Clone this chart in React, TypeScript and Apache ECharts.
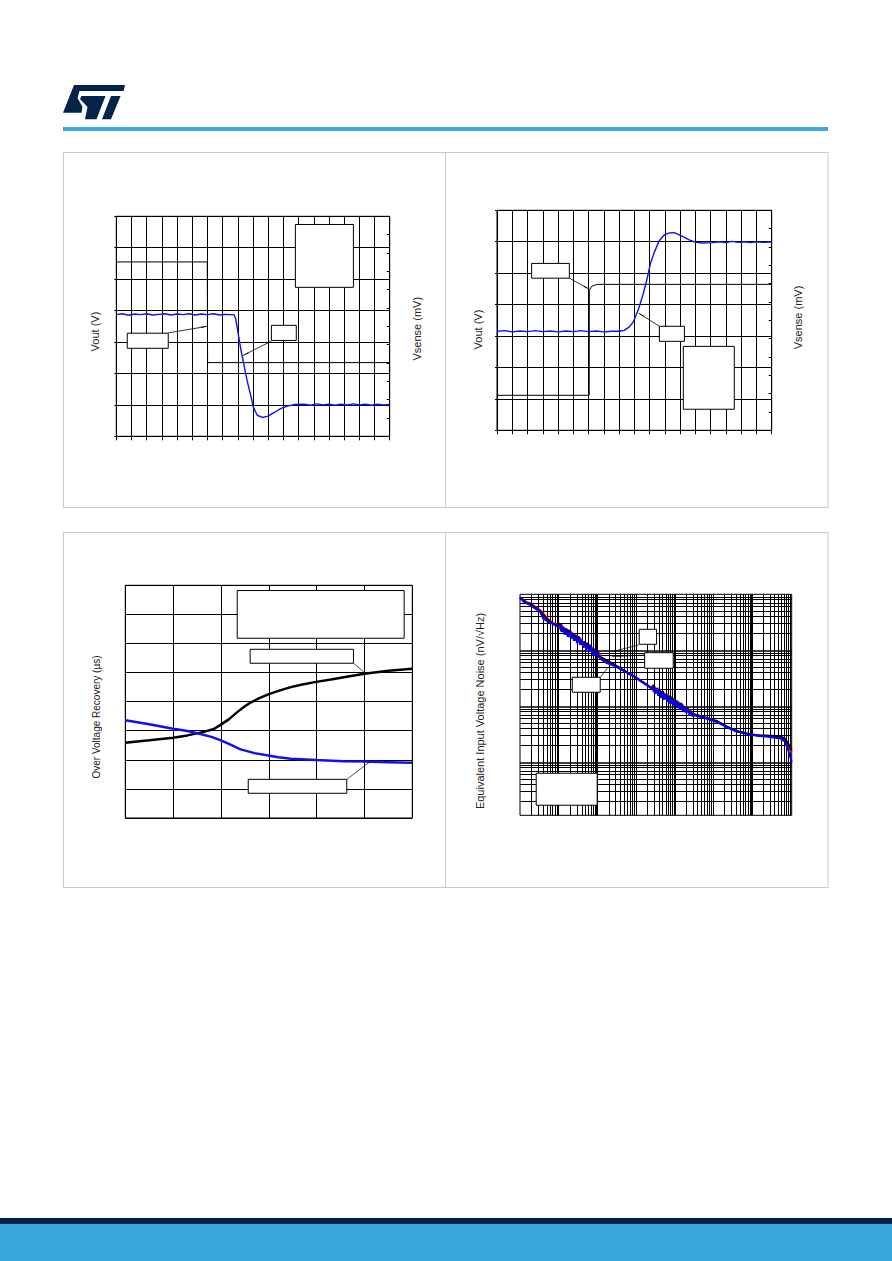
import React, { useEffect, useRef } from "react";
import * as echarts from "echarts";

// ---------- Chart 1 (top-left): Vout falling edge ----------
const c1Vout: [number, number][] = [
  [0, 3.87], [0.4, 3.9], [0.8, 3.85], [1.2, 3.89], [1.6, 3.87], [2.0, 3.9], [2.4, 3.86], [2.8, 3.88],
  [3.2, 3.9], [3.6, 3.86], [4.0, 3.89], [4.4, 3.87], [4.8, 3.9], [5.2, 3.86], [5.6, 3.89], [6.0, 3.87],
  [6.4, 3.9], [6.8, 3.86], [7.2, 3.88], [7.5, 3.87], [7.75, 3.87], [7.86, 3.74], [7.97, 3.43],
  [8.19, 2.79], [8.41, 2.26], [8.63, 1.73], [8.85, 1.3], [9.02, 0.93], [9.28, 0.67], [9.61, 0.6],
  [9.99, 0.64], [10.38, 0.75], [10.82, 0.88], [11.26, 0.96], [11.7, 1.01], [12.36, 1.02], [12.8, 0.99],
  [13.2, 1.03], [13.6, 1.0], [14.0, 1.02], [14.4, 0.99], [14.8, 1.02], [15.2, 1.0], [15.6, 1.03],
  [16.0, 1.0], [16.4, 1.02], [16.8, 0.99], [17.2, 1.02], [17.6, 1.0], [18, 1.01],
];
const c1Vsense: [number, number][] = [[0, 9.51], [5.99, 9.51], [6.01, 4.02], [18, 4.02]];
const c1Boxes = [[[11.79, 6.74], [15.61, 4.74]], [[0.72, 3.28], [3.42, 2.8]], [[10.21, 3.53], [11.85, 3.05]]];
const c1Arrows = [[[3.42, 3.29], [5.99, 3.5]], [[10.21, 3.03], [8.34, 2.57]]];

// ---------- Chart 2 (top-right): Vout rising edge ----------
const c2Vout: [number, number][] = [
  [0, 3.15], [0.5, 3.17], [1.0, 3.13], [1.5, 3.16], [2.0, 3.14], [2.5, 3.17], [3.0, 3.14], [3.5, 3.16],
  [4.0, 3.13], [4.5, 3.16], [5.0, 3.14], [5.5, 3.17], [6.0, 3.14], [6.5, 3.16], [7.0, 3.13], [7.5, 3.15],
  [8.02, 3.15], [8.34, 3.18], [8.67, 3.29], [8.93, 3.45], [9.11, 3.66], [9.28, 3.87], [9.55, 4.29],
  [9.76, 4.67], [10.05, 5.3], [10.31, 5.67], [10.64, 6.04], [10.97, 6.22], [11.3, 6.28], [11.62, 6.29],
  [11.95, 6.22], [12.28, 6.14], [12.6, 6.06], [13.04, 5.98], [13.48, 5.96], [14.13, 5.97], [14.6, 6.0],
  [15.0, 5.97], [15.4, 6.01], [15.8, 5.98], [16.2, 6.0], [16.6, 5.97], [17.0, 6.0], [17.4, 5.98], [18, 5.99],
];
const c2Vsense: [number, number][] = [[0, 1.91], [6.04, 1.91], [6.05, 7.64], [6.2, 7.85], [6.38, 7.91], [6.6, 7.96], [18, 7.96]];
const c2Boxes = [[[2.27, 5.31], [4.74, 4.84]], [[10.64, 3.31], [12.28, 2.83]], [[12.21, 2.67], [15.55, 0.67]]];
const c2Arrows = [[[4.74, 4.84], [6.05, 4.49]], [[10.64, 3.31], [9.28, 3.73]]];

// ---------- Chart 3 (bottom-left): over voltage recovery ----------
const c3Black: [number, number][] = [
  [0, 2.59], [0.5, 2.67], [1.0, 2.76], [1.3, 2.84], [1.64, 2.96], [1.85, 3.06], [2.0, 3.21], [2.17, 3.4],
  [2.34, 3.64], [2.5, 3.84], [2.62, 3.97], [2.8, 4.12], [2.99, 4.25], [3.2, 4.37], [3.46, 4.5], [3.7, 4.59],
  [3.99, 4.68], [4.3, 4.76], [4.57, 4.84], [5.0, 4.96], [5.5, 5.06], [6.0, 5.13],
];
const c3Blue: [number, number][] = [
  [0, 3.36], [0.5, 3.22], [1.0, 3.07], [1.3, 2.99], [1.57, 2.89], [1.8, 2.79], [2.0, 2.67], [2.2, 2.52],
  [2.41, 2.36], [2.7, 2.23], [2.99, 2.15], [3.2, 2.09], [3.46, 2.04], [3.99, 1.99], [4.57, 1.95], [5.0, 1.94],
  [5.5, 1.92], [6.0, 1.9],
];
const c3Boxes = [[[2.34, 7.82], [5.83, 6.18]], [[2.61, 5.8], [4.77, 5.32]], [[2.57, 1.33], [4.63, 0.85]]];
const c3Leaders = [[[4.77, 5.32], [4.99, 5.02]], [[4.63, 1.33], [5.11, 1.93]]];

// ---------- Chart 4 (bottom-right): input voltage noise, log-log ----------
const c4Freq = [
  1, 1.23, 1.479, 1.82, 2.455, 3.311, 3.981, 5.37, 6.607, 8.128, 9.772,
  10.96, 12.02, 13.18, 14.45, 15.85, 17.38, 19.05, 20.89, 22.91, 25.12, 27.54, 30.2, 33.11, 36.31, 39.81,
  43.65, 47.86, 52.48, 57.54, 63.1, 69.18, 75.86, 83.18, 91.2, 100, 109.6,
  131.8, 177.8, 288.4, 524.8, 955, 1413, 1995, 2570,
  2884, 3162, 3467, 3802, 4169, 4571, 5012, 5495, 6026, 6607, 7244, 7943, 8710, 9550, 10470, 11480,
  12590, 13800, 15140, 16600, 18200, 19950, 21880, 23990, 26300, 28840, 31620,
  56230, 125900, 223900, 407400, 912000, 1585000, 2455000, 3981000, 5495000, 7413000, 8913000, 10960000,
];
const c4BlueNoise = [
  8913, 7413, 6918, 6457, 5623, 4898, 3715, 3236, 3020, 2818, 2630,
  2818, 2188, 2630, 1950, 2239, 1738, 2138, 1698, 2042, 1514, 1778, 1349, 1660, 1288, 1549,
  1148, 1318, 1023, 1259, 977.2, 1148, 851.1, 1023, 794.3, 933.3, 776.2,
  676.1, 588.8, 524.8, 416.9, 331.1, 275.4, 234.4, 208.9,
  218.8, 169.8, 208.9, 162.2, 190.5, 141.3, 169.8, 131.8, 166.0, 125.9, 147.9, 109.6, 131.8, 104.7, 128.8, 97.72,
  114.8, 87.1, 104.7, 81.28, 100, 77.62, 91.2, 72.44, 79.43, 67.61, 69.18,
  63.1, 52.48, 42.66, 35.48, 30.9, 29.51, 28.84, 27.54, 26.92, 23.44, 16.6, 10.23,
];
const c4RedNoise = [
  8913, 7943, 7244, 6918, 6026, 5248, 4571, 3631, 3162, 2951, 2754,
  2399, 2884, 2138, 2512, 1905, 2344, 1862, 2188, 1660, 1950, 1479, 1820, 1413, 1698, 1259,
  1445, 1122, 1380, 1072, 1288, 955, 1122, 851.1, 1000, 831.8, 912,
  707.9, 616.6, 537, 426.6, 338.8, 281.8, 239.9, 213.8,
  186.2, 223.9, 173.8, 213.8, 158.5, 186.2, 141.3, 173.8, 138, 166, 123, 144.5, 112.2, 138, 107.2, 128.8,
  95.5, 114.8, 87.1, 107.2, 83.18, 100, 79.43, 89.13, 72.44, 77.62, 72.44,
  64.57, 53.7, 43.65, 36.31, 31.62, 30.2, 29.51, 28.84, 28.18, 25.12, 19.95, 14.79,
];
const c4BlackNoise = [
  8710, 7762, 7079, 6761, 5888, 5012, 4266, 3467, 3090, 2884, 2692,
  3020, 2138, 2570, 1905, 2455, 1862, 2291, 1622, 2042, 1479, 1905, 1413, 1778, 1259, 1514,
  1122, 1445, 1072, 1349, 1000, 1202, 851.1, 1072, 794.3, 1000, 776.2,
  741.3, 660.7, 549.5, 426.6, 331.1, 275.4, 239.9, 208.9,
  239.9, 169.8, 208.9, 154.9, 199.5, 147.9, 186.2, 131.8, 162.2, 120.2, 154.9, 114.8, 147.9, 104.7, 128.8, 93.33,
  120.2, 93.33, 114.8, 81.28, 100, 77.62, 95.5, 72.44, 83.18, 69.18, 72.44,
  64.57, 54.95, 43.65, 36.31, 31.62, 30.2, 30.2, 29.51, 29.51, 26.3, 21.38, 16.22,
];
const c4Boxes = [[[1230, 2371], [3467, 1279]], [[1698, 906], [9333, 478]], [[22.6, 330], [120, 178]], [[2.63, 6.37], [100, 1.71]]];
const c4Leaders = [[[237.6, 944], [1211, 1245]], [[237.6, 769], [1730, 824]], [[120, 330], [194, 501]]];

const TITLES = {
  c1Left: "Vout (V)",
  c1Right: "Vsense (mV)",
  c2Left: "Vout (V)",
  c2Right: "Vsense (mV)",
  c3Left: "Over Voltage Recovery (µs)",
  c4Left: "Equivalent Input Voltage Noise (nV/√Hz)",
};

const FONT = "'Liberation Sans', Arial, sans-serif";
const ST_DARK = "#03234b";
const ST_BLUE = "#3aa8dc";
const PANEL_BORDER = "#c3cbd2";
const BLUE = "#1010f0";

function boxes(list: number[][][]) {
  return list.map((b) => [{ coord: b[0] }, { coord: b[1] }]);
}
function segs(list: number[][][]) {
  return list.map((s) => [{ coord: s[0] }, { coord: s[1] }]);
}
function zip(xs: number[], ys: number[]) {
  return xs.map((x, i) => [x, ys[i]]);
}

const boxStyle = { color: "#fff", borderColor: "#000", borderWidth: 1, opacity: 1 };

function App() {
  const ref = useRef<HTMLDivElement>(null);
  useEffect(() => {
    if (!ref.current) return;
    const chart = echarts.init(ref.current, undefined, { renderer: "svg" });

    const blackLine = { color: "#000", width: 1 };
    const gridBase = { show: true, borderColor: "#000", borderWidth: 1, backgroundColor: "transparent" };

    const linXAxis = (gridIndex: number, max: number, tick: boolean) => ({
      type: "value",
      gridIndex,
      min: 0,
      max,
      interval: 1,
      axisLine: { show: tick, lineStyle: blackLine },
      axisTick: { show: tick, length: 4, lineStyle: blackLine },
      axisLabel: { show: false },
      splitLine: { show: true, lineStyle: blackLine },
    });
    const linYAxis = (gridIndex: number, max: number, tick: boolean) => ({
      type: "value",
      gridIndex,
      min: 0,
      max,
      interval: 1,
      position: "left",
      axisLine: { show: tick, lineStyle: blackLine },
      axisTick: { show: tick, length: 2, lineStyle: blackLine },
      axisLabel: { show: false },
      splitLine: { show: true, lineStyle: blackLine },
    });
    const rightYAxis = (gridIndex: number) => ({
      type: "value",
      gridIndex,
      min: 0,
      max: 12,
      interval: 1,
      position: "right",
      axisLine: { show: true, lineStyle: blackLine },
      axisTick: { show: true, inside: true, length: 3, lineStyle: blackLine },
      axisLabel: { show: false },
      splitLine: { show: false },
    });

    // log grid lines for chart 4
    const c4GridLines: any[] = [];
    for (let e = 0; e <= 6; e++) {
      const dec = Math.pow(10, e);
      for (let m = 2; m <= 9; m++) c4GridLines.push({ xAxis: m * dec });
      const next = dec * 10;
      c4GridLines.push({ xAxis: next, lineStyle: { width: e % 2 === 1 ? 2 : 1 } });
    }
    for (let e = 0; e <= 3; e++) {
      const dec = Math.pow(10, e);
      for (let m = 2; m <= 9; m++) c4GridLines.push({ yAxis: m * dec });
      if (e < 3) c4GridLines.push({ yAxis: dec * 10, lineStyle: { width: 1.6 } });
    }

    const lineSeries = (name: string, data: any, xi: number, yi: number, color: string, width: number, extra: any = {}) => ({
      name,
      type: "line",
      xAxisIndex: xi,
      yAxisIndex: yi,
      data,
      symbol: "none",
      showSymbol: false,
      silent: true,
      lineStyle: { color, width },
      ...extra,
    });

    const arrowMark = (list: number[][][]) => ({
      silent: true,
      symbol: ["none", "arrow"],
      symbolSize: [1, 7],
      label: { show: false },
      lineStyle: { color: "#000", width: 0.8, type: "solid" },
      data: segs(list),
    });
    const plainMark = (list: number[][][]) => ({
      silent: true,
      symbol: ["none", "none"],
      label: { show: false },
      lineStyle: { color: "#000", width: 0.7, type: "solid" },
      data: segs(list),
    });
    const areaMark = (list: number[][][], z = 1) => ({
      silent: true,
      z,
      label: { show: false },
      itemStyle: boxStyle,
      data: boxes(list),
    });

    const titleText = (text: string, x: number, y: number, size: number) => ({
      type: "text",
      x,
      y,
      rotation: Math.PI / 2,
      silent: true,
      style: { text, fill: "#222", font: `${size}px ${FONT}`, align: "center", verticalAlign: "middle" },
    });

    const option: any = {
      animation: false,
      backgroundColor: "#fff",
      grid: [
        { ...gridBase, left: 116.3, top: 216.3, width: 273.4, height: 220 },
        { ...gridBase, left: 497, top: 210.3, width: 274.7, height: 220 },
        { ...gridBase, left: 125.3, top: 585.3, width: 287, height: 232.7 },
        { ...gridBase, left: 520, top: 594.3, width: 271.7, height: 221 },
      ],
      xAxis: [
        linXAxis(0, 18, true),
        linXAxis(1, 18, true),
        linXAxis(2, 6, false),
        {
          type: "log",
          gridIndex: 3,
          logBase: 10,
          min: 1,
          max: 11000000,
          axisLine: { show: false },
          axisTick: { show: false },
          axisLabel: { show: false },
          splitLine: { show: false },
        },
      ],
      yAxis: [
        linYAxis(0, 7, true),
        rightYAxis(0),
        linYAxis(1, 7, true),
        rightYAxis(1),
        linYAxis(2, 8, false),
        {
          type: "log",
          gridIndex: 3,
          logBase: 10,
          min: 1.13,
          max: 10000,
          axisLine: { show: false },
          axisTick: { show: false },
          axisLabel: { show: false },
          splitLine: { show: false },
        },
      ],
      series: [
        lineSeries("c1Vsense", c1Vsense, 0, 1, "#000", 1),
        lineSeries("c1Vout", c1Vout, 0, 0, BLUE, 1.4, {
          markArea: areaMark(c1Boxes),
          markLine: arrowMark(c1Arrows),
        }),
        lineSeries("c2Vsense", c2Vsense, 1, 3, "#000", 1),
        lineSeries("c2Vout", c2Vout, 1, 2, BLUE, 1.4, {
          markArea: areaMark(c2Boxes),
          markLine: arrowMark(c2Arrows),
        }),
        lineSeries("c3Black", c3Black, 2, 4, "#000", 2.5),
        lineSeries("c3Blue", c3Blue, 2, 4, BLUE, 2.5, {
          markArea: areaMark(c3Boxes),
          markLine: plainMark(c3Leaders),
        }),
        lineSeries("c4Grid", [[1000, 100]], 3, 5, "rgba(0,0,0,0)", 0, {
          markLine: {
            silent: true,
            z: 1,
            symbol: ["none", "none"],
            label: { show: false },
            lineStyle: { color: "#000", width: 1, type: "solid" },
            data: c4GridLines,
          },
        }),
        lineSeries("c4Red", zip(c4Freq, c4RedNoise), 3, 5, "#ff0000", 2, { z: 3 }),
        lineSeries("c4Black", zip(c4Freq, c4BlackNoise), 3, 5, "#000", 2, { z: 3 }),
        lineSeries("c4Blue", zip(c4Freq, c4BlueNoise), 3, 5, "#0000ff", 2, {
          z: 3,
          markArea: areaMark(c4Boxes, 2),
          markLine: { ...plainMark(c4Leaders), z: 4 },
        }),
      ],
      graphic: [
        // header
        {
          type: "group",
          x: 63,
          y: 85,
          silent: true,
          children: [
            { type: "polygon", shape: { points: [[11, 0], [62, 0], [60.6, 6], [16.5, 6], [14.5, 13], [19.5, 22], [18.5, 27.7], [0, 27.7]] }, style: { fill: ST_DARK } },
            { type: "polygon", shape: { points: [[18.5, 11], [42.5, 11], [33.5, 34.3], [22, 34.3], [24.5, 22], [17, 14]] }, style: { fill: ST_DARK } },
            { type: "polygon", shape: { points: [[48, 11], [57.6, 11], [48, 34.3], [39, 34.3]] }, style: { fill: ST_DARK } },
          ],
        },
        { type: "rect", silent: true, shape: { x: 63, y: 127, width: 765, height: 4 }, style: { fill: ST_BLUE } },
        // panels
        { type: "rect", silent: true, shape: { x: 63.5, y: 152.5, width: 764.5, height: 355 }, style: { fill: "none", stroke: PANEL_BORDER, lineWidth: 1 } },
        { type: "line", silent: true, shape: { x1: 445.5, y1: 152.5, x2: 445.5, y2: 507.5 }, style: { stroke: PANEL_BORDER, lineWidth: 1 } },
        { type: "rect", silent: true, shape: { x: 63.5, y: 532.5, width: 764.5, height: 355 }, style: { fill: "none", stroke: PANEL_BORDER, lineWidth: 1 } },
        { type: "line", silent: true, shape: { x1: 445.5, y1: 532.5, x2: 445.5, y2: 887.5 }, style: { stroke: PANEL_BORDER, lineWidth: 1 } },
        // axis titles
        titleText(TITLES.c1Left, 94.7, 331.5, 11),
        titleText(TITLES.c1Right, 417.3, 328.7, 11),
        titleText(TITLES.c2Left, 477.7, 329.5, 11),
        titleText(TITLES.c2Right, 798.3, 317.5, 11),
        titleText(TITLES.c3Left, 96.3, 717, 10),
        titleText(TITLES.c4Left, 480, 711, 11),
        // footer
        { type: "rect", silent: true, shape: { x: 0, y: 1218, width: 892, height: 6 }, style: { fill: ST_DARK } },
        { type: "rect", silent: true, shape: { x: 0, y: 1224, width: 892, height: 37 }, style: { fill: ST_BLUE } },
      ],
    };

    chart.setOption(option);
    return () => chart.dispose();
  }, []);

  return (
    <div
      ref={ref}
      style={{ position: "absolute", left: 0, top: 0, width: 892, height: 1261, background: "#fff" }}
    />
  );
}

export default App;
